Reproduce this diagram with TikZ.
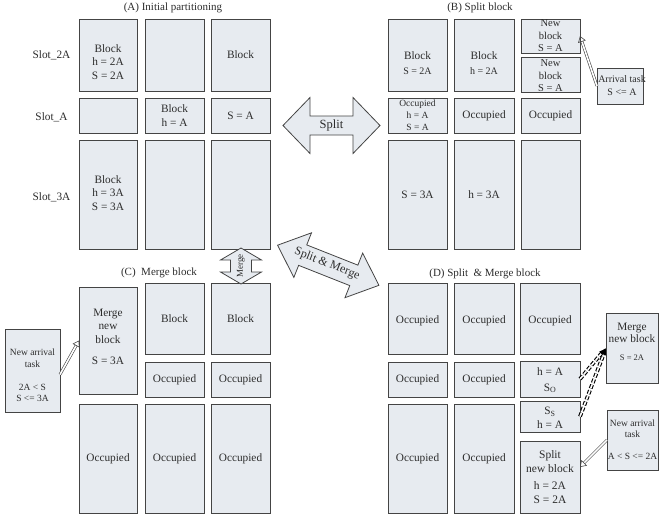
\documentclass[tikz,border=0pt]{standalone}
\usepackage{fontspec}
\setmainfont{Liberation Serif}
\usetikzlibrary{arrows.meta}

\definecolor{cellfill}{HTML}{E7EBF0}
\definecolor{edge}{HTML}{444444}
\definecolor{ink}{HTML}{2C2C2C}

\tikzset{
  cell/.style={draw=edge, fill=cellfill, line width=1pt, inner sep=0pt, outer sep=0pt},
  txt/.style={text=ink, align=center, inner sep=0pt, font=\fontsize{11.3}{13.8}\selectfont},
  smalltxt/.style={txt, font=\fontsize{9.5}{11.5}\selectfont},
  title/.style={text=ink, inner sep=0pt, font=\fontsize{11}{13}\selectfont},
  bigarrow/.style={draw=edge, fill=cellfill, line width=0.8pt, line join=miter},
  hollow/.style={draw=edge, double=white, double distance=1.6pt, line width=0.6pt,
    -{Triangle[open, length=6pt, width=8pt, line width=0.6pt]}},
  dashlink/.style={draw=black, double=white, double distance=1.6pt, line width=1.1pt,
    dash pattern=on 4pt off 2pt, -{Latex[length=7pt, width=6pt]}},
}

% a block cell given by its corners (x1,y1) and (x2,y2), in pixel units
\newcommand\blk[5]{%
  \pgfmathsetmacro\cellw{#4-#2}\pgfmathsetmacro\cellh{#5-#3}%
  \pgfmathsetmacro\cellx{(#2+#4)/2}\pgfmathsetmacro\celly{(#3+#5)/2}%
  \node[cell, minimum width=\cellw pt, minimum height=\cellh pt] (#1) at (\cellx,\celly) {};}

\begin{document}
\begin{tikzpicture}[x=1pt, y=-1pt]
\useasboundingbox (0,0) rectangle (659,517);

% ---------------- (A) Initial partitioning ----------------
\node[title] (ta) at (173,8) {(A) Initial partitioning};
\node[txt] (slot2a) at (51.5,55) {Slot\_2A};
\node[txt] (slota) at (51.5,117) {Slot\_A};
\node[txt] (slot3a) at (51.5,197) {Slot\_3A};

\blk{a11}{79}{19}{137}{91}   \blk{a12}{145}{19}{204}{91}   \blk{a13}{211}{19}{270}{91}
\blk{a21}{79}{98}{137}{133}  \blk{a22}{145}{98}{204}{133}  \blk{a23}{211}{98}{270}{133}
\blk{a31}{79}{140}{137}{249} \blk{a32}{145}{140}{204}{249} \blk{a33}{211}{140}{270}{249}

\node[txt] (a11t) at ([yshift=-7pt]a11.center) {Block\\h = 2A\\S = 2A};
\node[txt] (a13t) at (a13.center) {Block};
\node[txt] (a22t) at (a22.center) {Block\\h = A};
\node[txt] (a23t) at (a23.center) {S = A};
\node[txt] (a31t) at ([yshift=1.5pt]a31.center) {Block\\h = 3A\\S = 3A};

% ---------------- (B) Split block ----------------
\node[title] (tb) at (480,8) {(B) Split block};

\blk{b11}{388}{19}{447}{91}   \blk{b12}{454}{19}{514}{91}
\blk{b13a}{521}{19}{580}{53}  \blk{b13b}{521}{57}{580}{92}
\blk{b21}{388}{98}{447}{133}  \blk{b22}{454}{98}{514}{133}  \blk{b23}{521}{98}{580}{133}
\blk{b31}{388}{140}{447}{249} \blk{b32}{454}{140}{514}{249} \blk{b33}{521}{140}{580}{249}
\blk{arrival}{597}{68}{643}{104}

\node[txt] (b11t) at ([yshift=-8pt]b11.center) {Block\\[1.5pt]{\fontsize{10}{12}\selectfont S = 2A}};
\node[txt] (b12t) at ([yshift=-8pt]b12.center) {Block\\[1.5pt]{\fontsize{10}{12}\selectfont h = 2A}};
\node[txt, font=\fontsize{10.5}{12.5}\selectfont] (b13at) at (b13a.center) {New\\block\\S = A};
\node[txt, font=\fontsize{10.5}{12.5}\selectfont] (b13bt) at ([yshift=-1.5pt]b13b.center) {New\\block\\S = A};
\node[smalltxt, font=\fontsize{9.5}{12}\selectfont] (b21t) at (b21.center) {Occupied\\h = A\\S = A};
\node[txt] (b22t) at (b22.center) {Occupied};
\node[txt] (b23t) at (b23.center) {Occupied};
\node[txt] (b31t) at (b31.center) {S = 3A};
\node[txt] (b32t) at (b32.center) {h = 3A};
\node[txt, font=\fontsize{10}{13}\selectfont] (arrivalt) at ([xshift=2pt]arrival.center) {Arrival task\\S <= A};

\draw[hollow] (arrival.west) -- (b13a.east);

% ---------------- (C) Merge block ----------------
\node[title] (tc) at (159,273) {(C)~~Merge block};

\blk{c11}{79}{287}{137}{394}  \blk{c12}{145}{283}{204}{354}  \blk{c13}{211}{283}{270}{354}
                              \blk{c22}{145}{362}{204}{397}  \blk{c23}{211}{362}{270}{397}
\blk{c31}{79}{404}{137}{513}  \blk{c32}{145}{404}{204}{513}  \blk{c33}{211}{404}{270}{513}
\blk{nac}{5}{329}{60}{412}

\node[txt] (c11t) at ([yshift=4pt]c11.center) {Merge\\new\\block\\[6.5pt]S = 3A};
\node[txt] (c12t) at (c12.center) {Block};
\node[txt] (c13t) at (c13.center) {Block};
\node[txt] (c22t) at (c22.center) {Occupied};
\node[txt] (c23t) at (c23.center) {Occupied};
\node[txt] (c31t) at (c31.center) {Occupied};
\node[txt] (c32t) at (c32.center) {Occupied};
\node[txt] (c33t) at (c33.center) {Occupied};
\node[smalltxt] (nact) at ([yshift=-5pt]nac.center) {New arrival\\task\\[11.5pt]2A < S\\S <= 3A};

\draw[hollow] ([yshift=-4pt]nac.east) -- (c11.west);

% ---------------- (D) Split & Merge block ----------------
\node[title] (td) at (485,274) {(D) Split~~\& Merge block};

\blk{d11}{388}{283}{447}{354}  \blk{d12}{454}{283}{514}{354}  \blk{d13}{520}{283}{580}{354}
\blk{d21}{388}{362}{447}{397}  \blk{d22}{454}{362}{514}{397}  \blk{d23}{520}{361}{580}{397}
\blk{d31}{388}{404}{447}{513}  \blk{d32}{454}{404}{514}{513}  \blk{d33a}{520}{401}{580}{432}
                                                              \blk{d33b}{520}{441}{580}{513}
\blk{mD}{606}{313}{658}{383}
\blk{naD}{607}{410}{658}{470}

\node[txt] (d11t) at ([yshift=-2.5pt]d11.center) {Occupied};
\node[txt] (d12t) at ([yshift=-2.5pt]d12.center) {Occupied};
\node[txt] (d13t) at ([yshift=-2.5pt]d13.center) {Occupied};
\node[txt] (d21t) at (d21.center) {Occupied};
\node[txt] (d22t) at (d22.center) {Occupied};
\node[txt, font=\fontsize{11.3}{15.5}\selectfont] (d23t) at ([yshift=-1.5pt]d23.center) {h = A\\S\textsubscript{O}};
\node[txt, font=\fontsize{11.3}{14}\selectfont] (d33at) at ([yshift=-1.5pt]d33a.center) {S\textsubscript{S}\\h = A};
\node[txt, font=\fontsize{11.5}{14}\selectfont] (d33bt) at (d33b.center) {Split\\new block\\[3pt]h = 2A\\S = 2A};
\node[txt] (d31t) at (d31.center) {Occupied};
\node[txt] (d32t) at (d32.center) {Occupied};
\node[txt, font=\fontsize{11.3}{12}\selectfont] (mDt) at ([yshift=6pt]mD.center) {Merge\\new block\\[6pt]{\fontsize{8.5}{10}\selectfont S = 2A}};
\node[smalltxt, font=\fontsize{9.5}{10.5}\selectfont] (naDt) at (naD.center) {New arrival\\task\\[12pt]A < S <= 2A};

\draw[dashlink] (d23.east) -- (mD.west);
\draw[dashlink] (d33a.east) -- (mD.west);
\draw[hollow] (naD.west) -- ([yshift=10pt]d33b.east);

% ---------------- block arrows between the panels ----------------
% Split: horizontal double arrow
\begin{scope}[shift={(331.5,125.5)}]
  \draw[bigarrow] (-48.5,0) -- (-21.5,28) -- (-21.5,9.5) -- (21.5,9.5) -- (21.5,28) -- (48.5,0)
    -- (21.5,-28) -- (21.5,-9.5) -- (-21.5,-9.5) -- (-21.5,-28) -- cycle;
  \node[text=ink, font=\fontsize{12.5}{14}\selectfont] (splitt) at (0,0) {Split};
\end{scope}

% Merge: vertical double arrow
\begin{scope}[shift={(241,266)}, rotate=90]
  \draw[bigarrow] (-18,0) -- (-6,20.5) -- (-6,10.5) -- (6,10.5) -- (6,20.5) -- (18,0)
    -- (6,-20.5) -- (6,-10.5) -- (-6,-10.5) -- (-6,-20.5) -- cycle;
\end{scope}
\node[text=ink, rotate=90, inner sep=0pt, font=\fontsize{9}{10}\selectfont] (merget) at (241,266) {Merge};

% Split & Merge: diagonal double arrow
\begin{scope}[shift={(328.25,265.25)}, rotate=-21.6]
  \draw[bigarrow] (-54.5,0) -- (-27.5,24) -- (-27.5,11) -- (27.5,11) -- (27.5,24) -- (54.5,0)
    -- (27.5,-24) -- (27.5,-11) -- (-27.5,-11) -- (-27.5,-24) -- cycle;
\end{scope}
\node[text=ink, rotate=-21.6, inner sep=0pt, font=\fontsize{12}{14}\selectfont] (smt) at (327,264) {Split \& Merge};

\end{tikzpicture}
\end{document}
